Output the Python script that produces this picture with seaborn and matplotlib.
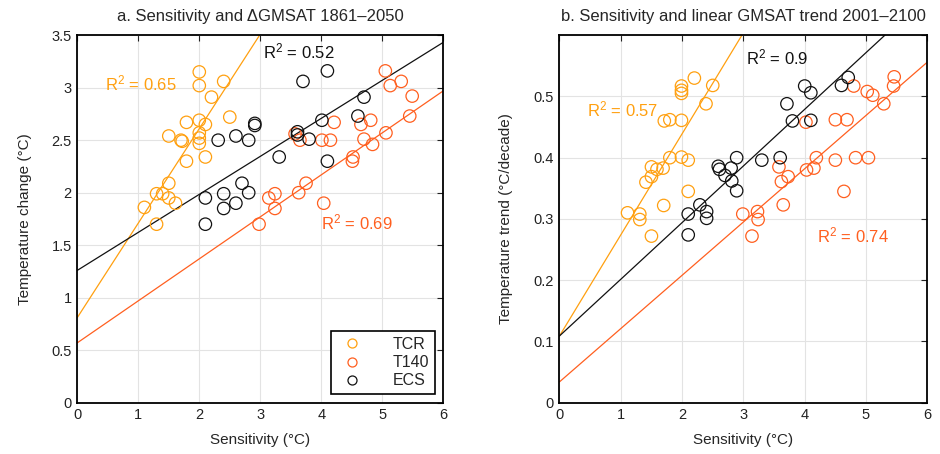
import numpy as np
import pandas as pd
import matplotlib.pyplot as plt
import seaborn as sns
from matplotlib.lines import Line2D

# ---- panel a: sensitivity vs temperature change 1861-2050 ----
a_tcr_x = [2.0, 2.0, 2.40, 2.20, 2.50, 2.0, 1.79, 2.10, 1.50, 1.70, 1.72, 2.0, 2.0, 2.0,
           2.10, 1.79, 1.50, 1.30, 1.40, 1.50, 1.61, 1.10, 1.30]
a_tcr_y = [3.15, 3.02, 3.06, 2.91, 2.72, 2.69, 2.67, 2.65, 2.54, 2.50, 2.49, 2.57, 2.52, 2.47,
           2.34, 2.30, 2.09, 1.99, 1.99, 1.95, 1.90, 1.86, 1.70]
a_t140_x = [5.05, 5.31, 5.13, 5.49, 5.45, 4.21, 4.65, 4.81, 5.06, 3.57, 3.65, 4.01, 4.15, 4.70,
            4.84, 4.52, 4.51, 3.75, 3.63, 3.24, 3.14, 3.24, 4.04, 2.98]
a_t140_y = [3.16, 3.06, 3.02, 2.92, 2.73, 2.67, 2.65, 2.69, 2.57, 2.56, 2.50, 2.50, 2.50, 2.51,
            2.46, 2.34, 2.30, 2.09, 2.00, 1.99, 1.95, 1.85, 1.90, 1.70]
a_ecs_x = [2.91, 2.91, 2.31, 2.60, 2.81, 2.70, 2.81, 2.40, 2.10, 2.60, 2.40, 2.10,
           4.10, 3.70, 4.70, 4.60, 4.01, 3.61, 3.61, 3.80, 3.31, 4.10]
a_ecs_y = [2.66, 2.64, 2.50, 2.54, 2.50, 2.09, 2.00, 1.99, 1.95, 1.90, 1.85, 1.70,
           3.16, 3.06, 2.91, 2.73, 2.69, 2.58, 2.55, 2.51, 2.34, 2.30]

# ---- panel b: sensitivity vs linear trend 2001-2100 ----
b_tcr_x = [2.20, 1.99, 1.99, 1.99, 2.50, 2.39, 1.71, 1.80, 1.99, 1.80, 1.99, 2.10, 1.50, 1.59,
           1.69, 1.50, 1.41, 2.10, 1.70, 1.11, 1.31, 1.31, 1.50]
b_tcr_y = [0.530, 0.517, 0.510, 0.505, 0.518, 0.488, 0.460, 0.462, 0.461, 0.400, 0.401, 0.396,
           0.385, 0.381, 0.383, 0.369, 0.360, 0.345, 0.322, 0.310, 0.308, 0.299, 0.272]
b_t140_x = [5.46, 5.45, 4.80, 5.02, 5.11, 5.29, 4.50, 4.69, 4.02, 4.19, 4.50, 4.83, 5.04, 3.58,
            4.03, 4.15, 3.73, 3.62, 4.64, 3.65, 3.23, 2.99, 3.24, 3.14]
b_t140_y = [0.532, 0.517, 0.517, 0.508, 0.502, 0.488, 0.462, 0.462, 0.458, 0.400, 0.396, 0.400,
            0.400, 0.385, 0.380, 0.383, 0.369, 0.361, 0.345, 0.323, 0.312, 0.308, 0.299, 0.272]
b_ecs_x = [2.89, 2.59, 2.61, 2.80, 2.70, 2.81, 2.89, 2.29, 2.40, 2.10, 2.40, 2.10, 3.30,
           4.71, 4.60, 4.00, 4.10, 3.71, 3.80, 4.10, 3.60]
b_ecs_y = [0.400, 0.386, 0.381, 0.383, 0.371, 0.362, 0.346, 0.323, 0.312, 0.308, 0.301, 0.274,
           0.396, 0.531, 0.518, 0.517, 0.506, 0.488, 0.460, 0.461, 0.400]

# regression lines (intercept, slope) and R^2 values
series = ['TCR', 'T140', 'ECS']
a_fit = {'TCR': (0.81, 0.90), 'T140': (0.57, 0.40), 'ECS': (1.26, 0.362)}
b_fit = {'TCR': (0.109, 0.165), 'T140': (0.034, 0.087), 'ECS': (0.109, 0.0925)}
a_r2 = {'TCR': '0.65', 'T140': '0.69', 'ECS': '0.52'}
b_r2 = {'TCR': '0.57', 'T140': '0.74', 'ECS': '0.9'}

colors = {'TCR': '#FFA010', 'T140': '#FF5F1F', 'ECS': '#111111'}

df_a = pd.concat([
    pd.DataFrame({'x': a_tcr_x, 'y': a_tcr_y, 'serie': 'TCR'}),
    pd.DataFrame({'x': a_t140_x, 'y': a_t140_y, 'serie': 'T140'}),
    pd.DataFrame({'x': a_ecs_x, 'y': a_ecs_y, 'serie': 'ECS'}),
])
df_b = pd.concat([
    pd.DataFrame({'x': b_tcr_x, 'y': b_tcr_y, 'serie': 'TCR'}),
    pd.DataFrame({'x': b_t140_x, 'y': b_t140_y, 'serie': 'T140'}),
    pd.DataFrame({'x': b_ecs_x, 'y': b_ecs_y, 'serie': 'ECS'}),
])

sns.set_theme(style="whitegrid")
plt.rcParams['font.family'] = ['Liberation Sans', 'DejaVu Sans']
plt.rcParams['mathtext.fontset'] = 'custom'
plt.rcParams['mathtext.rm'] = 'Liberation Sans'

fig = plt.figure(figsize=(9.4, 4.54), dpi=100)
ax1 = fig.add_axes([0.0822, 0.113, 0.3894, 0.8095])
ax2 = fig.add_axes([0.5952, 0.113, 0.3913, 0.8095])


def r2_label(val):
    return '$\\mathregular{R^2}$ = ' + val


def draw_panel(ax, df, fit):
    for s in series:
        d = df[df['serie'] == s]
        sns.scatterplot(data=d, x='x', y='y', ax=ax, s=80, facecolors='none',
                        edgecolor=colors[s], linewidth=0.9, zorder=3, legend=False)
    for s in ['TCR', 'ECS', 'T140']:
        b, m = fit[s]
        ax.axline((0, b), slope=m, color=colors[s], lw=0.9, zorder=2)
    ax.set_xlim(0, 6)
    ax.set_xticks(range(7))
    ax.grid(True, color='#e3e3e3', lw=0.8)
    for sp in ax.spines.values():
        sp.set_color('black')
        sp.set_linewidth(1.3)
    ax.tick_params(direction='in', length=4, width=0.8, top=True, right=True,
                   labelsize=10.5, colors='#222222', pad=4)
    ax.set_xlabel('Sensitivity (°C)', fontsize=11, labelpad=8)


draw_panel(ax1, df_a, a_fit)
ax1.set_ylim(0, 3.5)
ax1.set_yticks(np.arange(0, 3.51, 0.5))
ax1.set_yticklabels(['0', '0.5', '1', '1.5', '2', '2.5', '3', '3.5'])
ax1.set_ylabel('Temperature change (°C)', fontsize=11, labelpad=14)
ax1.set_title('a. Sensitivity and \u0394GMSAT 1861\u20132050', fontsize=12, pad=10)
ax1.text(0.45, 2.97, r2_label(a_r2['TCR']), color=colors['TCR'], fontsize=12)
ax1.text(3.05, 3.28, r2_label(a_r2['ECS']), color=colors['ECS'], fontsize=12)
ax1.text(4.0, 1.65, r2_label(a_r2['T140']), color=colors['T140'], fontsize=12)

handles = [Line2D([], [], marker='o', ls='none', mfc='none', mec=colors[s], ms=6.5, mew=0.9)
           for s in series]
leg = ax1.legend(handles, series, loc='lower right', fontsize=11.5, frameon=True,
                 fancybox=False, edgecolor='black', handletextpad=1.5,
                 borderpad=0.35, labelspacing=0.2, borderaxespad=0.55)
leg.get_frame().set_linewidth(1.2)
leg.get_frame().set_alpha(1)

draw_panel(ax2, df_b, b_fit)
ax2.set_ylim(0, 0.6)
ax2.set_yticks(np.arange(0, 0.61, 0.1))
ax2.set_yticklabels(['0', '0.1', '0.2', '0.3', '0.4', '0.5', ''])
ax2.set_ylabel('Temperature trend (°C/decade)', fontsize=11, labelpad=15)
ax2.set_title('b. Sensitivity and linear GMSAT trend 2001\u20132100', fontsize=12, pad=10)
ax2.text(0.45, 0.468, r2_label(b_r2['TCR']), color=colors['TCR'], fontsize=12)
ax2.text(3.05, 0.553, r2_label(b_r2['ECS']), color=colors['ECS'], fontsize=12)
ax2.text(4.2, 0.262, r2_label(b_r2['T140']), color=colors['T140'], fontsize=12)

fig.savefig('out.png', dpi=100)
